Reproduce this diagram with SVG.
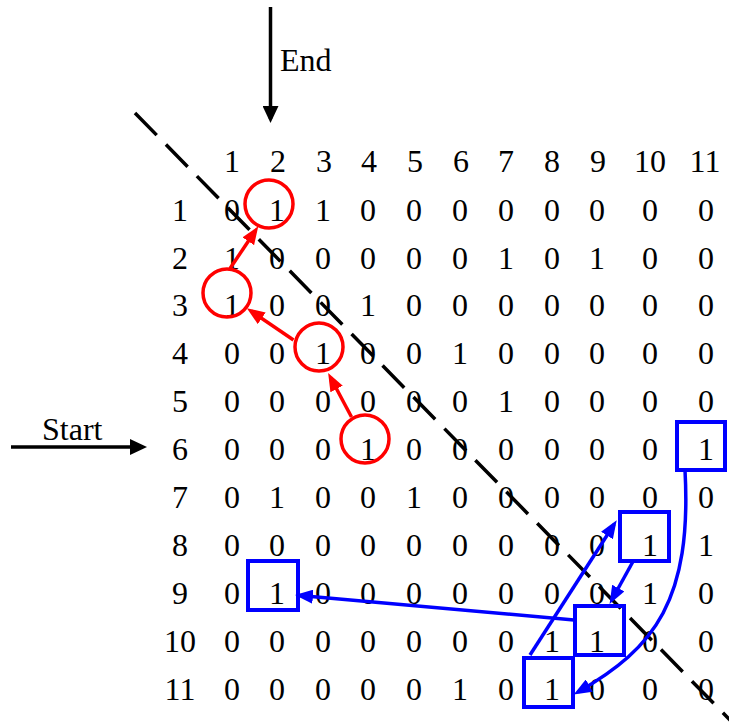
<svg xmlns="http://www.w3.org/2000/svg" width="729" height="727" viewBox="0 0 729 727">
  <style>
    text { font-family: "Liberation Serif", "Times New Roman", serif; font-size: 32px; fill: #000; }
    .m text { text-anchor: middle; }
    .ring { fill: none; stroke: #ff0000; stroke-width: 3.5; }
    .box { fill: none; stroke: #0000ff; stroke-width: 4; }
    .red { fill: none; stroke: #ff0000; stroke-width: 3.5; }
    .blue { fill: none; stroke: #0000ff; stroke-width: 3.5; }
    .black { fill: none; stroke: #000; stroke-width: 3.5; }
    .diag { fill: none; stroke: #000; stroke-width: 3.5; stroke-dasharray: 31 13.2; }
  </style>
  <defs>
    <marker id="ah-red" markerUnits="userSpaceOnUse" markerWidth="18" markerHeight="14" refX="13" refY="7" orient="auto" viewBox="0 0 18 14">
      <path d="M0,0 L18,7 L0,14 z" fill="#ff0000"/>
    </marker>
    <marker id="ah-blue" markerUnits="userSpaceOnUse" markerWidth="18" markerHeight="14" refX="13" refY="7" orient="auto" viewBox="0 0 18 14">
      <path d="M0,0 L18,7 L0,14 z" fill="#0000ff"/>
    </marker>
    <marker id="ah-black" markerUnits="userSpaceOnUse" markerWidth="17" markerHeight="16" refX="13" refY="8" orient="auto" viewBox="0 0 17 16">
      <path d="M0,0 L17,8 L0,16 z" fill="#000"/>
    </marker>
  </defs>

  <!-- diagonal split line -->
  <line class="diag" x1="135" y1="113" x2="731" y2="721"/>

  <!-- adjacency matrix: column header, row labels and entries -->
  <g id="matrix" class="m">
    <text x="232 278 324 369 415 461 506 552 598" y="172">123456789</text>
    <text x="650" y="172">10</text>
    <text x="705" y="172">11</text>

    <text x="180" y="220.5">1</text>
    <text x="180" y="268.5">2</text>
    <text x="180" y="316.4">3</text>
    <text x="180" y="364.4">4</text>
    <text x="180" y="412.3">5</text>
    <text x="180" y="460.3">6</text>
    <text x="180" y="508.2">7</text>
    <text x="180" y="556.2">8</text>
    <text x="180" y="604.1">9</text>
    <text x="180" y="652.1">10</text>
    <text x="180" y="700">11</text>

    <text x="232 277 323 368 414 460 506 552 597 650 706" y="220.5">01100000000</text>
    <text x="232 277 323 368 414 460 506 552 597 650 706" y="268.5">10000010100</text>
    <text x="232 277 323 368 414 460 506 552 597 650 706" y="316.4">10010000000</text>
    <text x="232 277 323 368 414 460 506 552 597 650 706" y="364.4">00100100000</text>
    <text x="232 277 323 368 414 460 506 552 597 650 706" y="412.3">00000010000</text>
    <text x="232 277 323 368 414 460 506 552 597 650 706" y="460.3">00010000001</text>
    <text x="232 277 323 368 414 460 506 552 597 650 706" y="508.2">01001000000</text>
    <text x="232 277 323 368 414 460 506 552 597 650 706" y="556.2">00000000011</text>
    <text x="232 277 323 368 414 460 506 552 597 650 706" y="604.1">01000000010</text>
    <text x="232 277 323 368 414 460 506 552 597 650 706" y="652.1">00000001100</text>
    <text x="232 277 323 368 414 460 506 552 597 650 706" y="700">00000101000</text>
  </g>

  <!-- entry and exit markers -->
  <g id="end-label">
    <text x="280" y="71">End</text>
  </g>
  <g id="start-label">
    <text x="42" y="440">Start</text>
  </g>

  <!-- red path nodes -->
  <g id="r-6-4"><circle class="ring" cx="365" cy="439" r="24"/></g>
  <g id="r-4-3"><circle class="ring" cx="319" cy="347" r="24"/></g>
  <g id="r-3-1"><circle class="ring" cx="227" cy="293" r="24"/></g>
  <g id="r-1-2"><circle class="ring" cx="269" cy="204" r="24"/></g>

  <!-- blue path nodes -->
  <g id="b-6-11"><rect class="box" x="677" y="422" width="48" height="48"/></g>
  <g id="b-8-10"><rect class="box" x="620" y="512" width="49" height="49"/></g>
  <g id="b-10-9"><rect class="box" x="575" y="606" width="49" height="49"/></g>
  <g id="b-11-8"><rect class="box" x="524" y="658" width="49" height="49"/></g>
  <g id="b-9-2"><rect class="box" x="248" y="561" width="50" height="49"/></g>

  <!-- connectors -->
  <g id="connectors">
    <line class="black" x1="270.5" y1="7" x2="270.5" y2="119" marker-end="url(#ah-black)"/>
    <line class="black" x1="11" y1="447" x2="143" y2="447" marker-end="url(#ah-black)"/>

    <line class="red" x1="351.5" y1="417" x2="330.5" y2="377.5" marker-end="url(#ah-red)"/>
    <line class="red" x1="293.5" y1="340" x2="251" y2="311" marker-end="url(#ah-red)"/>
    <line class="red" x1="230" y1="268.5" x2="255.5" y2="230.5" marker-end="url(#ah-red)"/>

    <path class="blue" d="M685,470 C692,600 655,648 578,692" marker-end="url(#ah-blue)"/>
    <line class="blue" x1="530" y1="655" x2="614" y2="524.5" marker-end="url(#ah-blue)"/>
    <line class="blue" x1="633" y1="561.5" x2="612" y2="599.5" marker-end="url(#ah-blue)"/>
    <line class="blue" x1="574" y1="620" x2="300" y2="595.5" marker-end="url(#ah-blue)"/>
  </g>
</svg>
